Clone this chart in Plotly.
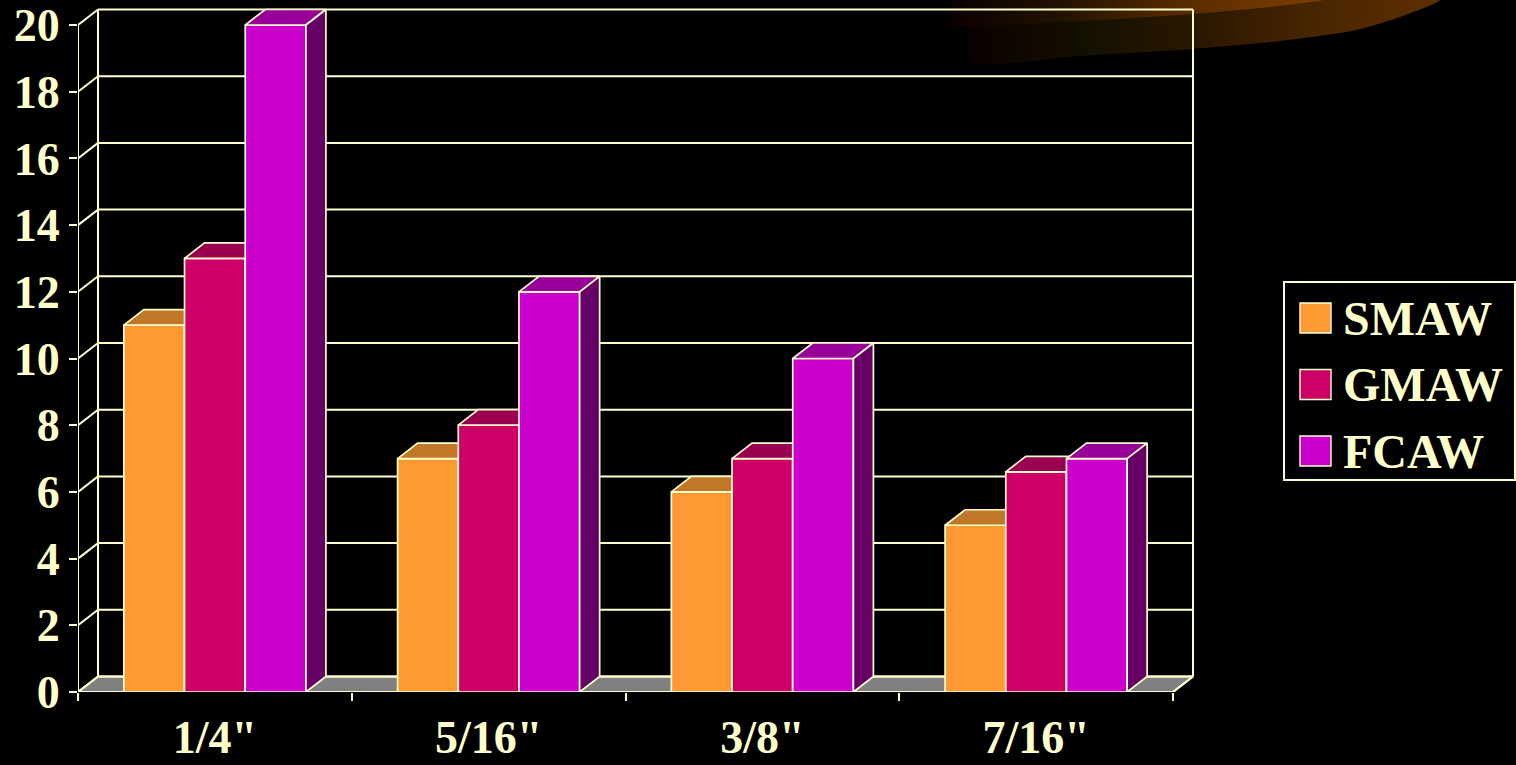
import plotly.graph_objects as go

# ---------------- data ----------------
categories = ['1/4"', '5/16"', '3/8"', '7/16"']
series_names = ['SMAW', 'GMAW', 'FCAW']
smaw = [11, 7, 6, 5]
gmaw = [13, 8, 7, 6.6]
fcaw = [20, 12, 10, 7]
y_ticks = list(range(0, 21, 2))

# ---------------- style ----------------
front_colors = ['#FF9933', '#CC0066', '#CC00CC']
top_colors = ['#C07828', '#990050', '#990099']
side_colors = ['#995C1F', '#7A003D', '#660066']
CREAM = '#FFFFCC'
FONT = 'Liberation Serif'
W, H = 1516, 765

# pixel geometry of the 3-D box
PX_X0, PX_CAT = 78, 273.75      # x = -0.5 at 78 px, one category = 273.75 px
PX_Y0, PX_UNIT = 692, 33.35     # value 0 at 692 px, one unit = 33.35 px
DX = 20 / PX_CAT                # depth offset in category units
DY = 15.5 / PX_UNIT             # depth offset in value units
BAR_W = 0.2217
GROUP_START = -1.5 * BAR_W
ncat = len(categories)
vmax = y_ticks[-1]

x_range = [-0.5, -0.5 + (W - PX_X0) / PX_CAT]
y_range = [0, PX_Y0 / PX_UNIT]


def px2x(p):
    return -0.5 + (p - PX_X0) / PX_CAT


def px2y(p):
    return (PX_Y0 - p) / PX_UNIT


fig = go.Figure()

# ---------------- decorative swoosh (top right) ----------------
low_px = [(968, 0), (1440, 0), (1400, 17), (1357, 30), (1280, 41), (1193, 49),
          (1080, 56), (970, 62), (968, 30)]
up_px = [(951, 0), (1323, 0), (1260, 8), (1193, 14), (1100, 20), (1000, 25), (951, 27)]
fig.add_trace(go.Scatter(
    x=[px2x(p[0]) for p in low_px], y=[px2y(p[1]) for p in low_px],
    mode='lines', line=dict(width=0, shape='spline', smoothing=0.6),
    fill='toself',
    fillgradient=dict(type='horizontal',
                      colorscale=[[0, '#0A0000'], [0.25, '#141000'], [0.5, '#2C1800'],
                                  [0.75, '#4A2600'], [1, '#5E2F00']]),
    hoverinfo='skip', showlegend=False))
fig.add_trace(go.Scatter(
    x=[px2x(p[0]) for p in up_px], y=[px2y(p[1]) for p in up_px],
    mode='lines', line=dict(width=0, shape='spline', smoothing=0.6),
    fill='toself',
    fillgradient=dict(type='horizontal',
                      colorscale=[[0, '#0C0000'], [0.3, '#221200'], [0.6, '#552A00'],
                                  [0.85, '#703700'], [1, '#7A3C00']]),
    hoverinfo='skip', showlegend=False))

# ---------------- floor ----------------
xl, xr = -0.5, ncat - 0.5
fig.add_trace(go.Scatter(
    x=[xl, xr, xr + DX, xl + DX, xl], y=[0, 0, DY, DY, 0],
    mode='lines', fill='toself', fillcolor='#808080',
    line=dict(color=CREAM, width=2), hoverinfo='skip', showlegend=False))

# ---------------- walls & grid ----------------
gx, gy = [], []
for v in y_ticks:
    gx += [xl + DX, xr + DX, None, xl, xl + DX, None]
    gy += [v + DY, v + DY, None, v, v + DY, None]
gx += [xl, xl, None, xl + DX, xl + DX, None, xr + DX, xr + DX, None, xr, xr + DX, None, xl, xr]
gy += [0, vmax, None, DY, vmax + DY, None, DY, vmax + DY, None, 0, DY, None, 0, 0]
fig.add_trace(go.Scatter(x=gx, y=gy, mode='lines', line=dict(color=CREAM, width=2),
                         hoverinfo='skip', showlegend=False))

# ---------------- 3-D bars ----------------
series = [smaw, gmaw, fcaw]
for g in range(ncat):
    for s, vals in enumerate(series):
        v = vals[g]
        x0 = g + GROUP_START + s * BAR_W
        x1 = x0 + BAR_W
        faces = [
            ([x0, x1, x1, x0, x0], [0, 0, v, v, 0], front_colors[s]),
            ([x0, x1, x1 + DX, x0 + DX, x0], [v, v, v + DY, v + DY, v], top_colors[s]),
            ([x1, x1 + DX, x1 + DX, x1, x1], [0, DY, v + DY, v, 0], side_colors[s]),
        ]
        for fx, fy, col in faces:
            fig.add_trace(go.Scatter(
                x=fx, y=fy, mode='lines', fill='toself', fillcolor=col,
                line=dict(color=CREAM, width=1.7), name=series_names[s],
                hoverinfo='skip', showlegend=False))

# ---------------- legend (drawn) ----------------
shapes = [dict(type='rect', xref='paper', yref='paper',
               x0=1284 / W, x1=1515 / W, y0=1 - 480 / H, y1=1 - 282 / H,
               line=dict(color=CREAM, width=2), fillcolor='rgba(0,0,0,0)')]
annotations = []
for i, name in enumerate(series_names):
    cy = 318 + i * 66.5
    shapes.append(dict(type='rect', xref='paper', yref='paper',
                       x0=1300 / W, x1=1331 / W, y0=1 - (cy + 15) / H, y1=1 - (cy - 15) / H,
                       line=dict(color=CREAM, width=1.4), fillcolor=front_colors[i]))
    annotations.append(dict(text=name, xref='paper', yref='paper',
                            x=1341 / W, y=1 - cy / H, xanchor='left', yanchor='middle',
                            showarrow=False,
                            font=dict(family=FONT, size=48, color=CREAM, weight='bold')))

fig.update_layout(
    width=W, height=H,
    paper_bgcolor='black', plot_bgcolor='black',
    margin=dict(l=0, r=0, t=0, b=0),
    showlegend=False,
    shapes=shapes, annotations=annotations,
    xaxis=dict(domain=[PX_X0 / W, 1], range=x_range, showgrid=False, zeroline=False,
               showline=False, automargin=False,
               tickmode='array', tickvals=list(range(ncat)), ticktext=categories,
               ticks='', ticklabelstandoff=14,
               tickfont=dict(family=FONT, size=46, color=CREAM, weight='bold'),
               minor=dict(tickmode='array', tickvals=[i - 0.5 for i in range(ncat + 1)],
                          ticks='outside', ticklen=8, tickwidth=2, tickcolor=CREAM,
                          showgrid=False)),
    yaxis=dict(domain=[(H - PX_Y0) / H, 1], range=y_range, showgrid=False, zeroline=False,
               showline=False, automargin=False,
               tickmode='array', tickvals=y_ticks,
               ticks='outside', ticklen=8, tickwidth=2, tickcolor=CREAM,
               tickfont=dict(family=FONT, size=46, color=CREAM, weight='bold')),
)

fig.write_html('out.html')
